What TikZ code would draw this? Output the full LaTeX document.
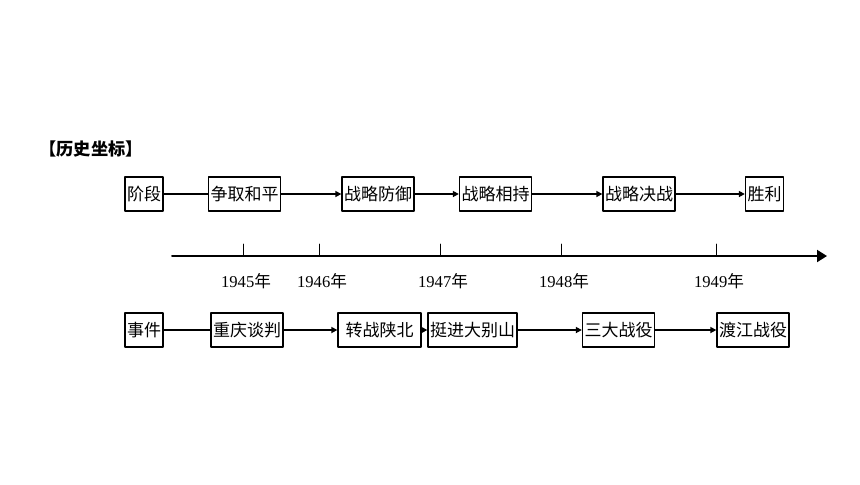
\documentclass[tikz,border=0pt]{standalone}
\usepackage{fontspec}
\setmainfont{Liberation Serif}
\newfontfamily\cjk{Noto Sans CJK SC}
\usetikzlibrary{arrows.meta}

\begin{document}
\begin{tikzpicture}[line cap=round,line join=round,>={Triangle[length=3pt,width=3pt]},x=0.5pt,y=-0.5pt,
  box/.style={draw,line width=0.65pt,inner xsep=1pt,inner ysep=0pt,minimum height=17pt,font=\cjk\fontsize{8.5}{10}\selectfont},
  link/.style={line width=0.75pt},
  year/.style={font=\fontsize{8.3}{10}\selectfont}]
\useasboundingbox (0,0) rectangle (860,484);
\node[font=\cjk\bfseries\fontsize{8.6}{10}\selectfont] (title) at (91,149) {【历史坐标】};
% stages
\node[box] (jd) at (144,194) {阶段};
\node[box] (zq) at (244.5,194) {争取和平};
\node[box] (fy) at (378,194) {战略防御};
\node[box] (xc) at (495.5,194) {战略相持};
\node[box] (jz) at (639,194) {战略决战};
\node[box] (sl) at (764.5,194) {胜利};
\draw[link] (jd) -- (zq);
\draw[link,->] (zq) -- (fy);
\draw[link,->] (fy) -- (xc);
\draw[link,->] (xc) -- (jz);
\draw[link,->] (jz) -- (sl);
% time axis
\coordinate (t0) at (172,256);
\coordinate (t1) at (827,256);
\draw[-{Triangle[length=5pt,width=6pt]},line width=1pt] (t0) -- (t1);
\foreach \x/\y in {243/1945,319/1946,440/1947,561/1948,716/1949}{
  \draw[line width=0.5pt] (\x,256) -- (\x,244);
  \node[year] (y\y) at (\x+3,281) {\y{\cjk 年}};
}
% events
\node[box] (sj) at (144,330) {事件};
\node[box] (cq) at (247,330) {重庆谈判};
\node[box,minimum width=41.5pt] (zz) at (379.5,330) {转战陕北};
\node[box] (tj) at (472.5,330) {挺进大别山};
\node[box] (sd) at (618.5,330) {三大战役};
\node[box] (dj) at (753,330) {渡江战役};
\draw[link] (sj) -- (cq);
\draw[link,->] (cq) -- (zz);
\draw[link,->] (zz) -- (tj);
\draw[link,->] (tj) -- (sd);
\draw[link,->] (sd) -- (dj);
\end{tikzpicture}
\end{document}
